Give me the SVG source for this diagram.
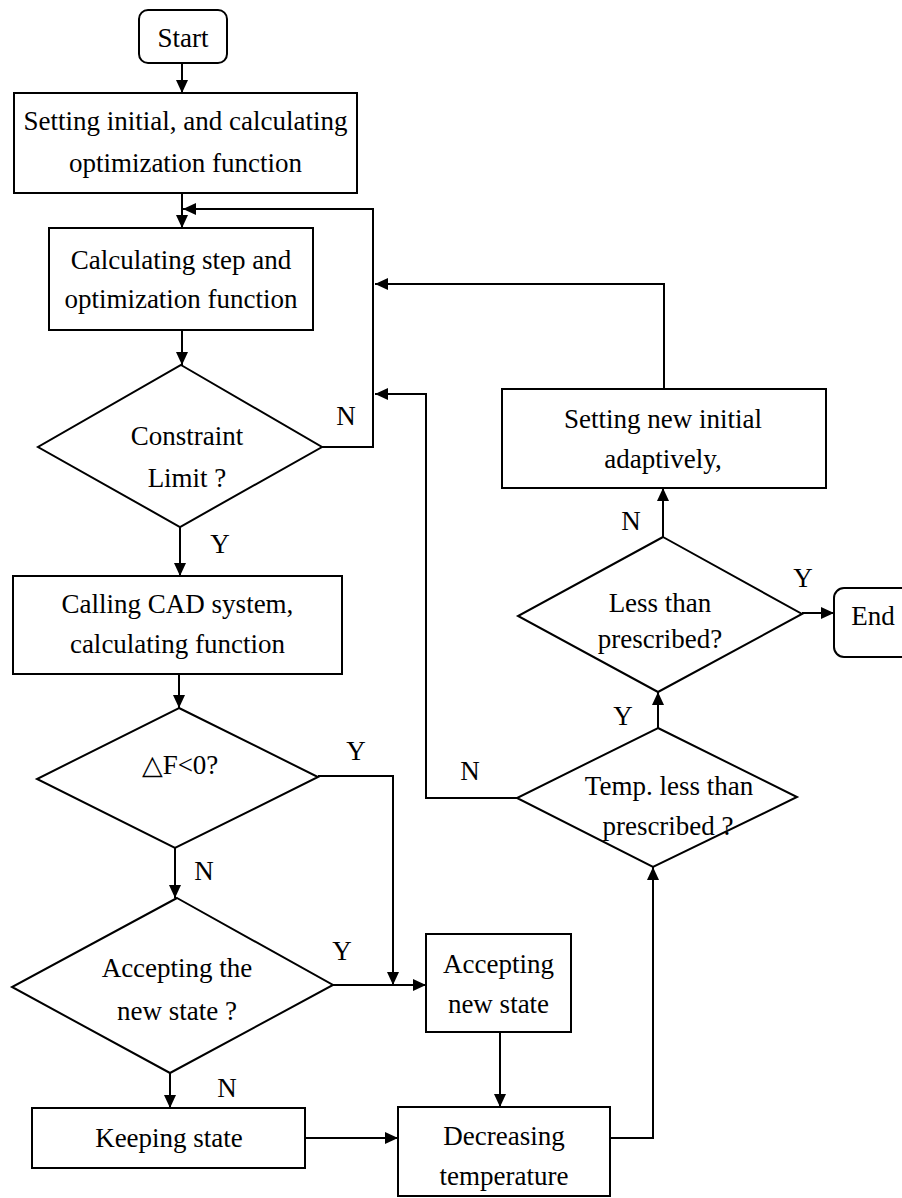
<svg xmlns="http://www.w3.org/2000/svg" width="902" height="1198" viewBox="0 0 902 1198">
<style>
.box{fill:#fff;stroke:#000;stroke-width:2}
.t{font-family:"Liberation Serif","Times New Roman",serif;font-size:27px;fill:#000;text-anchor:middle}
.c{fill:none;stroke:#000;stroke-width:2}
</style>
<defs>
<marker id="ah" markerUnits="userSpaceOnUse" markerWidth="14" markerHeight="12" refX="13" refY="6" orient="auto">
<path d="M0,0 L13,6 L0,12 z" fill="#000"/>
</marker>
</defs>
<rect width="902" height="1198" fill="#fff"/>
<g id="connectors">
<path class="c" d="M182,63 V93" marker-end="url(#ah)"/>
<path class="c" d="M182,193 V228" marker-end="url(#ah)"/>
<path class="c" d="M182,330 V365" marker-end="url(#ah)"/>
<path class="c" d="M322,447 H373 V209 H183" marker-end="url(#ah)"/>
<path class="c" d="M180,527 V576" marker-end="url(#ah)"/>
<path class="c" d="M179,674 V708" marker-end="url(#ah)"/>
<path class="c" d="M318,776 H393 V985" marker-end="url(#ah)"/>
<path class="c" d="M175,848 V898" marker-end="url(#ah)"/>
<path class="c" d="M333,985 H426" marker-end="url(#ah)"/>
<path class="c" d="M170,1073 V1108" marker-end="url(#ah)"/>
<path class="c" d="M305,1138 H398" marker-end="url(#ah)"/>
<path class="c" d="M500,1032 V1107" marker-end="url(#ah)"/>
<path class="c" d="M610,1138 H653 V867" marker-end="url(#ah)"/>
<path class="c" d="M658,728 V692" marker-end="url(#ah)"/>
<path class="c" d="M517,798 H426 V394 H375" marker-end="url(#ah)"/>
<path class="c" d="M663,537 V488" marker-end="url(#ah)"/>
<path class="c" d="M802,613 H834" marker-end="url(#ah)"/>
<path class="c" d="M664,389 V284 H375" marker-end="url(#ah)"/>
</g>
<g id="start">
<rect class="box" x="139" y="10" width="88" height="53" rx="9"/>
<text class="t" x="183" y="47">Start</text>
</g>
<g id="setting-initial">
<rect class="box" x="14" y="93" width="343" height="100"/>
<text class="t" x="185.5" y="130">Setting initial, and calculating</text>
<text class="t" x="185.5" y="172">optimization function</text>
</g>
<g id="calc-step">
<rect class="box" x="49" y="228" width="264" height="102"/>
<text class="t" x="181" y="269">Calculating step and</text>
<text class="t" x="181" y="308">optimization function</text>
</g>
<g id="constraint">
<polygon class="box" points="181,365 322,447 180,527 38,447"/>
<text class="t" x="187" y="445">Constraint</text>
<text class="t" x="187" y="487">Limit ?</text>
<text class="t" x="346" y="425">N</text>
<text class="t" x="220" y="553">Y</text>
</g>
<g id="calling-cad">
<rect class="box" x="13" y="576" width="329" height="98"/>
<text class="t" x="177.5" y="613">Calling CAD system,</text>
<text class="t" x="177.5" y="653">calculating function</text>
</g>
<g id="deltaf">
<polygon class="box" points="179,708 318,777 175,848 37,779"/>
<text class="t" x="180" y="774">△F&lt;0?</text>
<text class="t" x="356" y="760">Y</text>
<text class="t" x="204" y="880">N</text>
</g>
<g id="accepting-q">
<polygon class="box" points="177,898 333,985 170,1073 12,987"/>
<text class="t" x="177" y="977">Accepting the</text>
<text class="t" x="177" y="1020">new state ?</text>
<text class="t" x="342" y="960">Y</text>
<text class="t" x="227" y="1097">N</text>
</g>
<g id="keeping">
<rect class="box" x="32" y="1108" width="273" height="60"/>
<text class="t" x="169" y="1147">Keeping state</text>
</g>
<g id="accepting-new">
<rect class="box" x="426" y="934" width="145" height="98"/>
<text class="t" x="498.5" y="973">Accepting</text>
<text class="t" x="498.5" y="1013">new state</text>
</g>
<g id="decreasing">
<rect class="box" x="398" y="1107" width="212" height="89"/>
<text class="t" x="504" y="1145">Decreasing</text>
<text class="t" x="504" y="1185">temperature</text>
</g>
<g id="temp">
<polygon class="box" points="658,728 797,797 653,867 517,798"/>
<text class="t" x="669" y="795">Temp. less than</text>
<text class="t" x="668" y="835">prescribed ?</text>
<text class="t" x="623" y="725">Y</text>
<text class="t" x="470" y="780">N</text>
</g>
<g id="less-than">
<polygon class="box" points="663,537 802,614 658,692 518,616"/>
<text class="t" x="660" y="612">Less than</text>
<text class="t" x="660" y="648">prescribed?</text>
<text class="t" x="631" y="530">N</text>
<text class="t" x="803" y="587">Y</text>
</g>
<g id="setting-new">
<rect class="box" x="502" y="389" width="324" height="99"/>
<text class="t" x="663" y="428">Setting new initial</text>
<text class="t" x="663" y="468">adaptively,</text>
</g>
<g id="end">
<rect class="box" x="834" y="588" width="80" height="69" rx="10"/>
<text class="t" x="873" y="625">End</text>
</g>
</svg>
